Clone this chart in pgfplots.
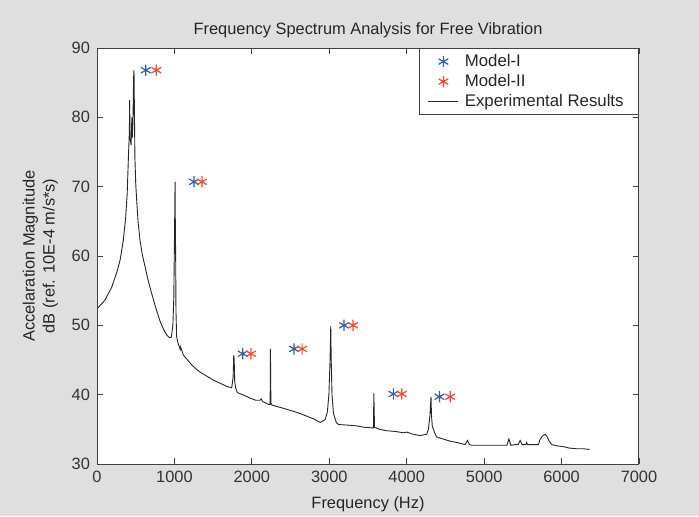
\documentclass[border=0pt]{standalone}
\usepackage{fontspec}
\setmainfont{Liberation Sans}
\usepackage{pgfplots}
\pgfplotsset{compat=1.18}
\usetikzlibrary{calc,backgrounds}

\definecolor{bgscan}{RGB}{224,223,224}
\definecolor{modelblue}{RGB}{55,95,165}
\definecolor{modelred}{RGB}{240,75,45}

\newcommand{\lblfont}{\fontsize{8.2}{9.5}\selectfont}

\begin{document}
\begin{tikzpicture}
\begin{axis}[
  name=ax, at={(0,0)}, anchor=south west,
  width=271pt, height=208pt, scale only axis,
  xmin=0, xmax=7000, ymin=30, ymax=90,
  xtick={0,1000,...,7000}, ytick={30,40,...,90},
  scaled x ticks=false,
  /pgf/number format/1000 sep={},
  /pgf/number format/assume math mode=true,
  tick align=inside, major tick length=3pt,
  axis line style={draw=black!75, line width=0.5pt},
  tick style={black!75, line width=0.4pt},
  ticklabel style={font=\lblfont, text=black!80},
  title={Frequency Spectrum Analysis for Free Vibration},
  title style={font=\lblfont, text=black!85, yshift=-4.5pt},
  xlabel={Frequency (Hz)},
  xlabel style={font=\lblfont, text=black!85},
  ylabel={Accelaration Magnitude\\dB (ref. 10E-4 m/s*s)},
  ylabel style={align=center, font=\fontsize{8.2}{10}\selectfont, text=black!85},
  axis background/.style={fill=white},
  legend image code/.code={%
    \draw[mark repeat=2, mark phase=2, #1] plot coordinates {(0pt,0pt) (7.5pt,0pt) (15pt,0pt)};},
  legend style={at={(1,1)}, anchor=north east, draw=black!75,
    font=\fontsize{8.4}{9.5}\selectfont, text=black!85,
    inner xsep=4.5pt, inner ysep=0.8pt, row sep=-1.6pt,
    nodes={inner xsep=3pt}},
  legend cell align=left,
]
% Model-I
\addplot[only marks, mark=asterisk, mark size=2.8pt, modelblue, line width=0.6pt]
  coordinates {(630,86.8) (1253,70.7) (1882,45.9) (2545,46.6) (3191,50.0) (3828,40.1) (4423,39.7)};
\addlegendentry{Model-I}
% Model-II
\addplot[only marks, mark=asterisk, mark size=2.8pt, modelred, line width=0.6pt]
  coordinates {(766,86.8) (1357,70.7) (1990,45.9) (2649,46.6) (3307,50.0) (3936,40.1) (4561,39.7)};
\addlegendentry{Model-II}
% Experimental spectrum
\addplot[black!85, line width=0.45pt] coordinates {
  (10,52.5) (100,53.6) (190,55.5) (260,57.8) (300,59.5) (340,62.3) (370,65.5)
  (390,69.0) (405,74.0) (418,78.0) (422,82.5) (426,77.0) (440,76.0) (450,80.0)
  (455,77.0) (465,79.5) (472,85.5) (478,86.8) (484,80.0) (490,74.0) (500,70.5)
  (512,68.1) (530,65.0) (555,62.3) (585,60.2) (620,58.5) (660,56.5) (706,54.6)
  (760,52.5) (814,50.6) (860,49.4) (900,48.6) (940,48.2) (960,48.3) (980,50.0)
  (992,54.0) (998,60.0) (1004,66.0) (1008,70.7) (1012,64.0) (1016,60.0) (1020,52.0)
  (1028,48.4) (1045,47.5) (1060,47.0) (1075,46.5) (1080,46.9) (1116,45.7) (1170,45.0)
  (1223,44.3) (1290,43.6) (1352,43.1) (1430,42.6) (1503,42.1) (1600,41.6) (1675,41.2)
  (1740,41.0) (1758,42.5) (1766,45.7) (1772,45.0) (1778,42.0) (1790,41.0) (1813,40.3)
  (1900,39.9) (1977,39.5) (2050,39.2) (2106,39.2) (2120,39.4) (2140,39.0) (2214,38.6)
  (2236,38.6) (2240,46.6) (2246,38.8) (2260,38.5) (2321,38.3) (2420,38.0) (2536,37.6)
  (2620,37.3) (2709,36.9) (2800,36.5) (2882,36.0) (2946,36.4) (2975,37.5) (2995,40.0)
  (3010,45.0) (3019,49.9) (3025,45.0) (3035,40.0) (3054,37.3) (3090,36.0) (3118,35.7)
  (3250,35.6) (3355,35.5) (3450,35.3) (3570,35.2) (3576,40.2) (3584,35.3) (3650,35.0)
  (3742,34.8) (3850,34.7) (3958,34.5) (4000,34.6) (4080,34.3) (4173,34.1) (4259,34.3)
  (4280,35.0) (4300,37.0) (4314,39.7) (4320,37.0) (4330,35.5) (4360,34.5) (4388,33.9)
  (4470,33.6) (4560,33.3) (4650,33.1) (4754,32.8) (4785,33.4) (4810,32.8) (4841,32.7)
  (5100,32.7) (5294,32.7) (5320,33.6) (5345,32.7) (5400,32.8) (5440,32.8) (5465,33.4)
  (5490,32.8) (5540,32.8) (5548,33.1) (5560,32.8) (5702,32.8) (5720,33.5) (5750,34.0)
  (5788,34.3) (5810,34.0) (5840,33.3) (5874,32.8) (5950,32.6) (6025,32.5) (6100,32.3)
  (6197,32.2) (6280,32.2) (6361,32.1)
};
\addlegendentry{Experimental Results}
\end{axis}
\pgfresetboundingbox
\path[use as bounding box] ($(ax.south west)+(-48.5pt,-26pt)$) rectangle ($(ax.south west)+(301pt,232pt)$);
\begin{scope}[on background layer]
\fill[bgscan] ($(ax.south west)+(-48.5pt,-26pt)$) rectangle ($(ax.south west)+(301pt,232pt)$);
\end{scope}
\end{tikzpicture}
\end{document}
